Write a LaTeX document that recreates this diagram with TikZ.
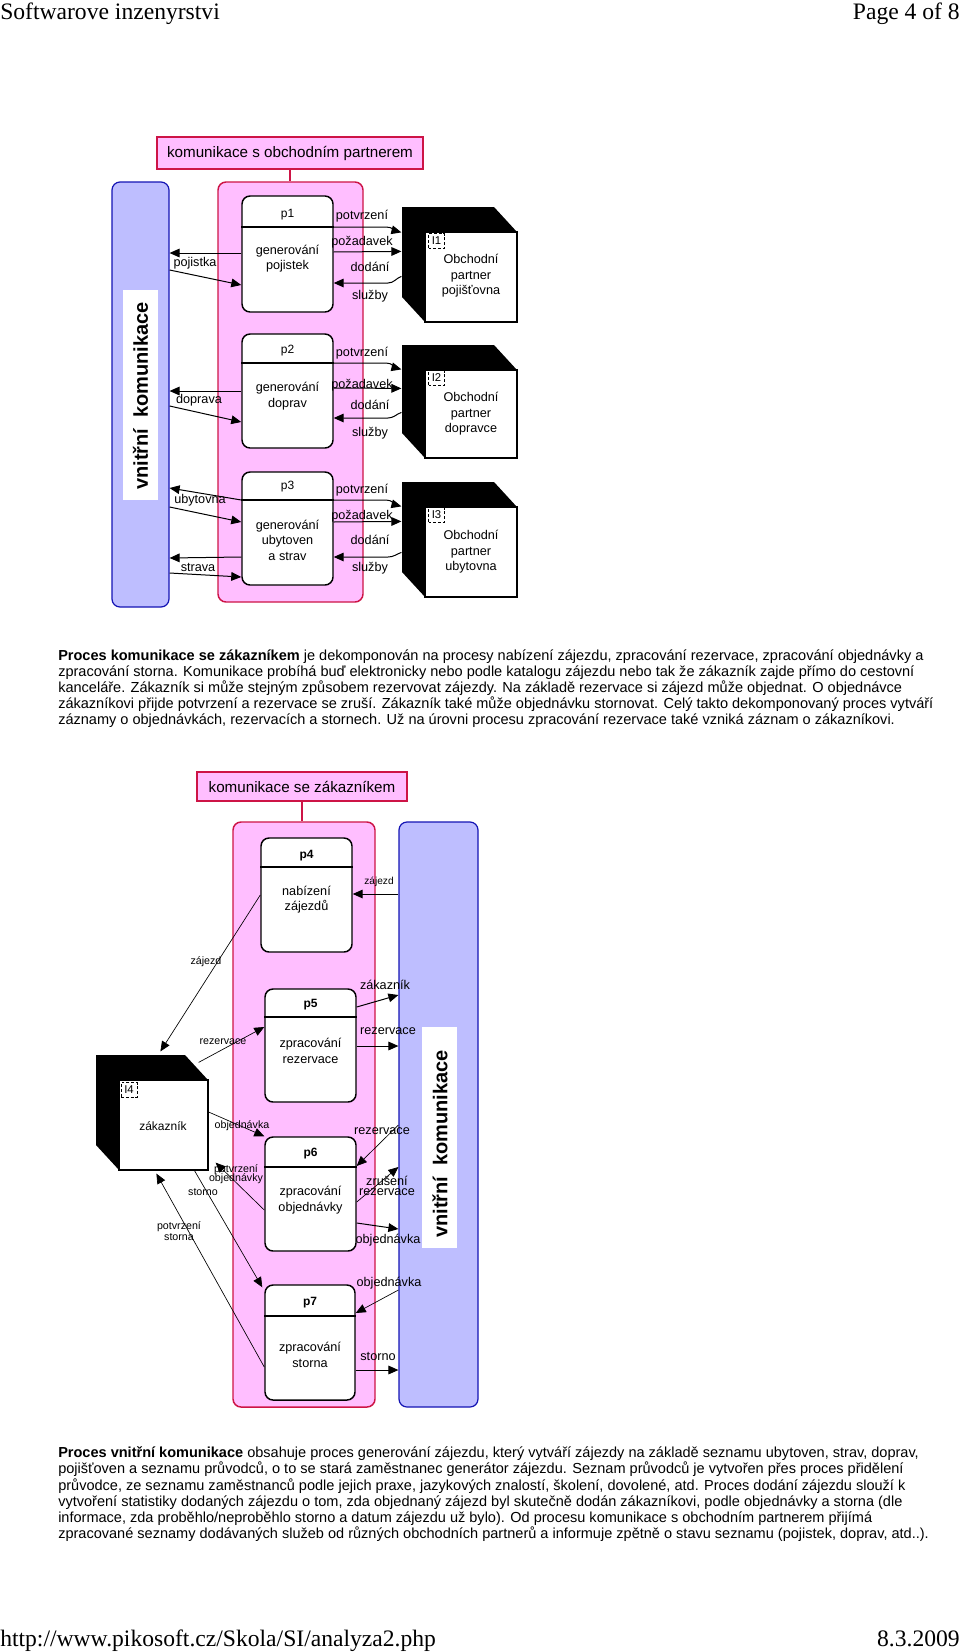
\documentclass[tikz,border=0pt]{standalone}
\usepackage{fontspec}
\setmainfont{Liberation Sans}
\newfontfamily\seriffont{Liberation Serif}
\usetikzlibrary{arrows.meta,fit,calc}
\definecolor{pinkc}{RGB}{255,190,255}
\definecolor{redc}{RGB}{205,20,70}
\definecolor{bluec}{RGB}{190,190,255}
\definecolor{bluedc}{RGB}{20,20,180}
\tikzset{
  pinkbox/.style={draw=redc, fill=pinkc, line width=1.1pt, rounded corners=6pt, inner sep=0pt},
  titlebox/.style={draw=redc, fill=pinkc, line width=1.1pt, inner sep=0pt, font=\fontsize{11.4}{13}\selectfont},
  bluebar/.style={draw=bluedc, fill=bluec, line width=0.9pt, rounded corners=6pt, inner sep=0pt},
  whiterect/.style={fill=white, inner sep=0pt},
  vlabel/.style={rotate=90, font=\bfseries\fontsize{15}{18}\selectfont, inner sep=0pt},
  proc/.style={draw, fill=white, line width=1.1pt, rounded corners=6pt, inner sep=0pt},
  cubeface/.style={draw, fill=white, line width=0.9pt, inner sep=0pt},
  ibox/.style={draw, dashed, dash pattern=on 2.2pt off 1.4pt, line width=0.7pt, inner sep=1pt, minimum width=12pt, minimum height=11pt, font=\fontsize{8.5}{10}\selectfont},
  ptext/.style={align=center, inner sep=0pt, font=\fontsize{9.5}{11.6}\selectfont},
  pnum/.style={inner sep=0pt, font=\fontsize{9}{11}\selectfont},
  lab/.style={inner sep=0pt, font=\fontsize{9.5}{10.5}\selectfont},
  slab/.style={inner sep=0pt, font=\fontsize{8}{9}\selectfont},
  arr/.style={line width=0.75pt, -{Triangle[length=7.5pt,width=6.5pt]}},
  tarr/.style={line width=0.5pt, -{Triangle[length=7.5pt,width=6.5pt]}},
  para/.style={anchor=base west, inner sep=0pt, font=\fontsize{10.9}{12}\selectfont},
  hdr/.style={inner sep=0pt, font=\seriffont\fontsize{17.7}{20}\selectfont}
}
\newcommand\cubebox[5]{%
  \fill ({#2-23},{#3-25}) -- ({#4-23},{#3-25}) -- (#4,#3) -- (#4,#5) -- (#2,#5) -- ({#2-23},{#5-25}) -- cycle;
  \node[cubeface, fit={(#2,#3) (#4,#5)}] (#1) {};
}
\begin{document}
\begin{tikzpicture}[x=0.75pt,y=-0.75pt]
\useasboundingbox[fill=white] (0,0) rectangle (960,1652);

% header / footer
\node[hdr, anchor=base west] (h1) at (0,20) {Softwarove inzenyrstvi};
\node[hdr, anchor=base east] (h2) at (960,20) {Page 4 of 8};
\node[hdr, anchor=base west] (f1) at (0,1646) {http://www.pikosoft.cz/Skola/SI/analyza2.php};
\node[hdr, anchor=base east] (f2) at (960,1646) {8.3.2009};

% ================= top diagram =================
\node[titlebox, minimum width=199.5pt, minimum height=24pt] (t1) at (290,153) {komunikace s obchodním partnerem};
\node[bluebar, fit={(112,182) (169,607)}] (b1) {};
\node[whiterect, fit={(123,290) (158,500)}] (w1) {};
\node[vlabel] (v1) at (140.5,396) {vnitřní\hspace{0.55em}komunikace};
\node[pinkbox, fit={(218,182) (363,602)}] (c1) {};
\draw[redc, line width=1.1pt] (t1.south) -- (t1.south |- c1.north);

% processes
\node[proc, fit={(242,196) (333,312)}] (p1) {};
\draw[line width=0.9pt] (p1.west |- 0,227) -- (p1.east |- 0,227);
\node[pnum] (p1n) at (287.5,215) {p1};
\node[ptext] (p1t) at (287.5,258.5) {generování\\pojistek};

\node[proc, fit={(242,334) (333,448)}] (p2) {};
\draw[line width=0.9pt] (p2.west |- 0,363) -- (p2.east |- 0,363);
\node[pnum] (p2n) at (287.5,351) {p2};
\node[ptext] (p2t) at (287.5,396) {generování\\doprav};

\node[proc, fit={(242,472) (333,585)}] (p3) {};
\draw[line width=0.9pt] (p3.west |- 0,500) -- (p3.east |- 0,500);
\node[pnum] (p3n) at (287.5,487) {p3};
\node[ptext] (p3t) at (287.5,540) {generování\\ubytoven\\a strav};

% partners
\cubebox{l1}{425}{232}{517}{322}
\node[ibox] (i1) at (436.5,241) {I1};
\node[ptext] (l1t) at (471,276) {Obchodní\\partner\\pojišťovna};
\cubebox{l2}{425}{370}{517}{458}
\node[ibox] (i2) at (436.5,378) {I2};
\node[ptext] (l2t) at (471,414) {Obchodní\\partner\\dopravce};
\cubebox{l3}{425}{507}{517}{597}
\node[ibox] (i3) at (436.5,515) {I3};
\node[ptext] (l3t) at (471,552) {Obchodní\\partner\\ubytovna};

% block 1 arrows
\draw[arr] (p1.east |- 0,227) -- (386,227) to[out=0,in=165] ($(l1.north west)+(-23,1)$);
\node[lab] (a1) at (362,216) {potvrzení};
\draw[arr] (p1.east |- 0,252) -- ($(l1.north west)+(-23,20)$);
\node[lab] (a2) at (362,242) {požadavek};
\draw[arr] ($(l1.north west)+(-23,45)$) to[out=200,in=0] (388,283) -- (p1.east |- 0,283);
\node[lab] (a3) at (370,267) {dodání};
\node[lab] (a4) at (370,296) {služby};
\draw[arr] (p1.west |- 0,253) -- (b1.east |- 0,253);
\node[lab] (a5) at (195,263) {pojistka};
\draw[arr] (b1.east |- 0,270) -- (p1.west |- 0,285);

% block 2 arrows
\draw[arr] (p2.east |- 0,363) -- (386,363) to[out=0,in=165] ($(l2.north west)+(-23,0)$);
\node[lab] (b2a1) at (362,353) {potvrzení};
\draw[arr] (p2.east |- 0,388) -- ($(l2.north west)+(-23,19)$);
\node[lab] (b2a2) at (362,385) {požadavek};
\draw[arr] ($(l2.north west)+(-23,43)$) to[out=200,in=0] (388,418) -- (p2.east |- 0,418);
\node[lab] (b2a3) at (370,405) {dodání};
\node[lab] (b2a4) at (370,433) {služby};
\draw[arr] (p2.west |- 0,391) -- (b1.east |- 0,391);
\node[lab] (b2a5) at (199,400) {doprava};
\draw[arr] (b1.east |- 0,406) -- (p2.west |- 0,422);

% block 3 arrows
\draw[arr] (p3.east |- 0,500) -- (386,500) to[out=0,in=165] ($(l3.north west)+(-23,0)$);
\node[lab] (b3a1) at (362,490) {potvrzení};
\draw[arr] (p3.east |- 0,522) -- ($(l3.north west)+(-23,15)$);
\node[lab] (b3a2) at (362,516) {požadavek};
\draw[arr] ($(l3.north west)+(-23,46)$) to[out=200,in=0] (388,557) -- (p3.east |- 0,557);
\node[lab] (b3a3) at (370,540) {dodání};
\node[lab] (b3a4) at (370,568) {služby};
\draw[arr] (p3.west |- 0,500) -- (b1.east |- 0,488);
\node[lab] (b3a5) at (200,500) {ubytovna};
\draw[arr] (b1.east |- 0,507) -- (p3.west |- 0,522);
\draw[arr] (p3.west |- 0,557) -- (b1.east |- 0,558);
\node[lab] (b3a6) at (198,567) {strava};
\draw[arr] (b1.east |- 0,573) -- (p3.west |- 0,577);

% ================= paragraph 1 =================
\node[para] (q1) at (58,660) {\textbf{Proces komunikace se zákazníkem} je dekomponován na procesy nabízení zájezdu, zpracování rezervace, zpracování objednávky a};
\node[para] (q2) at (58,676) {zpracování storna. Komunikace probíhá buď elektronicky nebo podle katalogu zájezdu nebo tak že zákazník zajde přímo do cestovní};
\node[para] (q3) at (58,692) {kanceláře. Zákazník si může stejným způsobem rezervovat zájezdy. Na základě rezervace si zájezd může objednat. O objednávce};
\node[para] (q4) at (58,708) {zákazníkovi přijde potvrzení a rezervace se zruší. Zákazník také může objednávku stornovat. Celý takto dekomponovaný proces vytváří};
\node[para] (q5) at (58,724) {záznamy o objednávkách, rezervacích a stornech. Už na úrovni procesu zpracování rezervace také vzniká záznam o zákazníkovi.};

% ================= bottom diagram =================
\node[titlebox, minimum width=157.5pt, minimum height=21.75pt] (t2) at (302,786.5) {komunikace se zákazníkem};
\node[pinkbox, fit={(233,822) (375,1407)}] (c2) {};
\draw[redc, line width=1.1pt] (t2.south) -- (t2.south |- c2.north);
\node[bluebar, fit={(399,822) (478,1407)}] (b2) {};
\node[whiterect, fit={(422,1027) (457,1248)}] (w2) {};
\node[vlabel] (v2) at (440,1144) {vnitřní\hspace{0.55em}komunikace};

\node[proc, fit={(261,838) (352,952)}] (p4) {};
\draw[line width=0.9pt] (p4.west |- 0,867) -- (p4.east |- 0,867);
\node[pnum, font=\bfseries\fontsize{9}{11}\selectfont] (p4n) at (306.5,856) {p4};
\node[ptext] (p4t) at (306.5,899.5) {nabízení\\zájezdů};

\node[proc, fit={(265,989) (356,1102)}] (p5) {};
\draw[line width=0.9pt] (p5.west |- 0,1017) -- (p5.east |- 0,1017);
\node[pnum, font=\bfseries\fontsize{9}{11}\selectfont] (p5n) at (310.5,1005) {p5};
\node[ptext] (p5t) at (310.5,1051) {zpracování\\rezervace};

\node[proc, fit={(265,1137) (356,1251)}] (p6) {};
\draw[line width=0.9pt] (p6.west |- 0,1167) -- (p6.east |- 0,1167);
\node[pnum, font=\bfseries\fontsize{9}{11}\selectfont] (p6n) at (310.5,1154) {p6};
\node[ptext] (p6t) at (310.5,1200) {zpracování\\objednávky};

\node[proc, fit={(265,1285) (355,1400)}] (p7) {};
\draw[line width=0.9pt] (p7.west |- 0,1316) -- (p7.east |- 0,1316);
\node[pnum, font=\bfseries\fontsize{9}{11}\selectfont] (p7n) at (310,1303) {p7};
\node[ptext] (p7t) at (310,1355) {zpracování\\storna};

\cubebox{l4}{119}{1080}{208}{1170}
\node[ibox] (i4) at (129,1090) {I4};
\node[ptext, font=\fontsize{9}{11}\selectfont] (l4t) at (163,1126) {zákazník};

% bottom arrows
\draw[arr] (b2.west |- 0,894) -- (p4.east |- 0,894);
\node[slab, font=\fontsize{7.6}{8.8}\selectfont] (d1) at (379,882) {zájezd};
\draw[tarr] (p4.west |- 0,895) -- ($(l4.north west)+(42,-28)$);
\node[slab] (d2) at (206,962) {zájezd};
\draw[arr] (p5.east |- 0,1007) -- (b2.west |- 0,995);
\node[lab] (d3) at (385,985) {zákazník};
\draw[arr] (p5.east |- 0,1046) -- (b2.west |- 0,1046);
\node[lab] (d4) at (388,1031) {rezervace};
\draw[tarr] ($(l4.north east)+(-10,-17)$) -- (p5.west |- 0,1027);
\node[slab] (d5) at (223,1042) {rezervace};
\draw[tarr] (l4.east |- 0,1112) -- (p6.north west);
\node[slab] (d6) at (242,1126) {objednávka};
\draw[tarr] (b2.west |- 0,1125) -- (p6.east |- 0,1166);
\node[lab] (d7) at (382,1131) {rezervace};
\draw[tarr] (p6.east |- 0,1202) -- (b2.west |- 0,1167);
\node[lab, align=center] (d8) at (387,1186) {zrušení\\[-2.5pt]rezervace};
\draw[arr] (p6.east |- 0,1223) -- (b2.west |- 0,1229);
\node[lab] (d9) at (388,1240) {objednávka};
\draw[tarr] (p6.west |- 0,1210) -- ($(l4.south east)+(7,-8)$);
\node[slab, align=center] (d10) at (236,1174) {potvrzení\\[-2pt]objednávky};
\draw[tarr] ($(l4.south)+(31,0)$) -- ($(p7.north west)+(-2,3)$);
\node[slab] (d11) at (203,1192) {storno};
\draw[tarr] (p7.west |- 0,1367) -- ($(l4.south west)+(38,3)$);
\node[slab, align=center] (d12) at (179,1231) {potvrzení\\[-1pt]storna};
\draw[tarr] (b2.west |- 0,1290) -- (p7.east |- 0,1313);
\node[lab] (d13) at (389,1283) {objednávka};
\draw[arr] (p7.east |- 0,1370) -- (b2.west |- 0,1370);
\node[lab] (d14) at (378,1356) {storno};

% ================= paragraph 2 =================
\node[para] (r1) at (58,1457) {\textbf{Proces vnitřní komunikace} obsahuje proces generování zájezdu, který vytváří zájezdy na základě seznamu ubytoven, strav, doprav,};
\node[para] (r2) at (58,1473) {pojišťoven a seznamu průvodců, o to se stará zaměstnanec generátor zájezdu. Seznam průvodců je vytvořen přes proces přidělení};
\node[para] (r3) at (58,1490) {průvodce, ze seznamu zaměstnanců podle jejich praxe, jazykových znalostí, školení, dovolené, atd. Proces dodání zájezdu slouží k};
\node[para] (r4) at (58,1506) {vytvoření statistiky dodaných zájezdu o tom, zda objednaný zájezd byl skutečně dodán zákazníkovi, podle objednávky a storna (dle};
\node[para] (r5) at (58,1522) {informace, zda proběhlo/neproběhlo storno a datum zájezdu už bylo). Od procesu komunikace s obchodním partnerem přijímá};
\node[para] (r6) at (58,1538) {zpracované seznamy dodávaných služeb od různých obchodních partnerů a informuje zpětně o stavu seznamu (pojistek, doprav, atd..).};
\end{tikzpicture}
\end{document}
